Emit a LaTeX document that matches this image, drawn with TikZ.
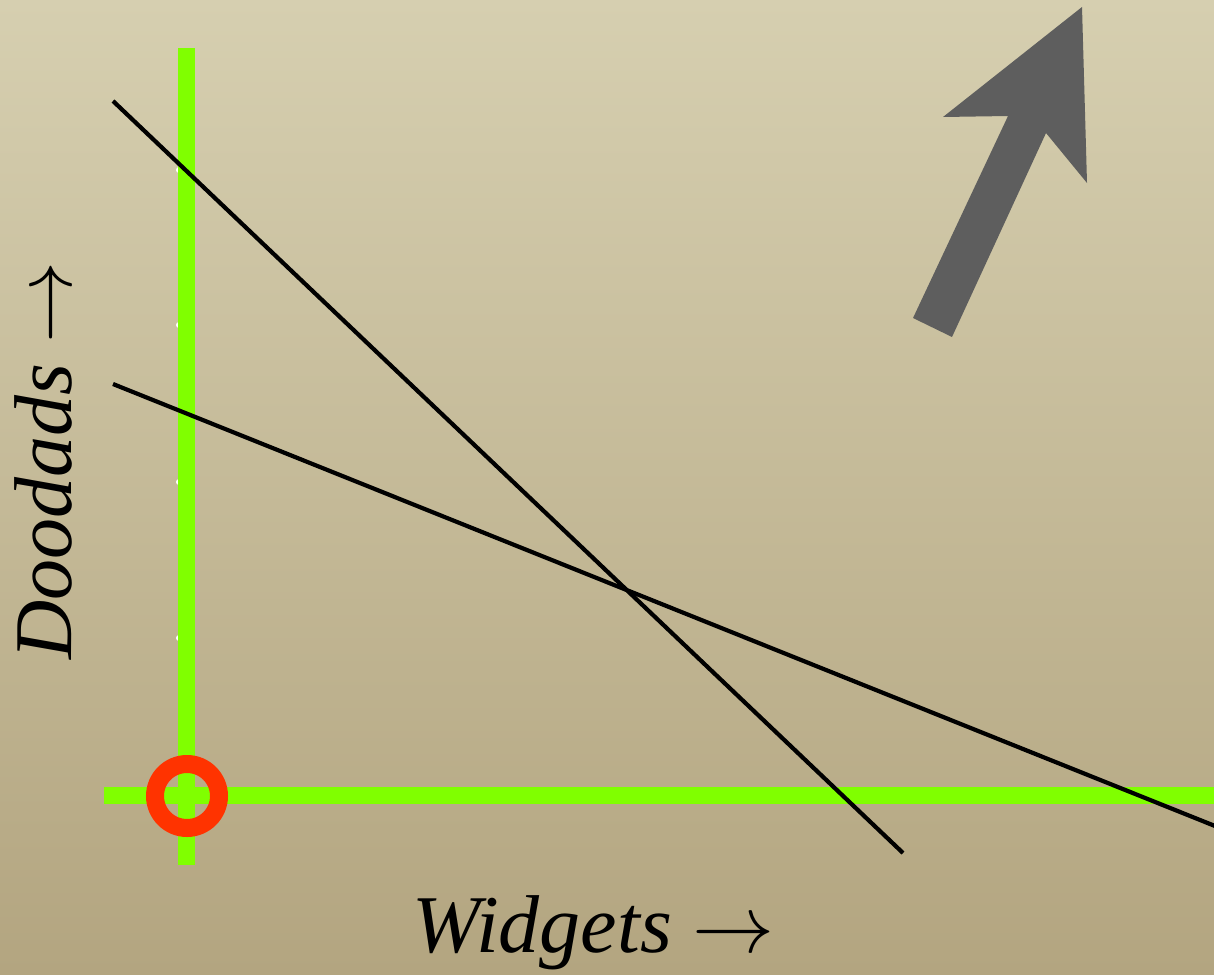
\documentclass[tikz,border=0pt]{standalone}
\usepackage{fix-cm}
\usepackage{fontspec}
\setmainfont{Liberation Serif}
\usetikzlibrary{calc}
\definecolor{bgtop}{HTML}{D6CFB0}
\definecolor{bgbot}{HTML}{B3A580}
\definecolor{axisgreen}{HTML}{80FF00}
\definecolor{origred}{HTML}{FF3300}
\definecolor{arrowgrey}{HTML}{5E5E5E}
\tikzset{
  axisline/.style={draw=axisgreen, line width=17pt},
  budgetline/.style={draw=black, line width=4.2pt},
  tickdot/.style={circle, fill=white, inner sep=0pt, minimum size=6pt},
  origring/.style={circle, draw=origred, line width=18pt, minimum size=64pt, inner sep=0pt},
  axislabel/.style={font=\fontsize{82}{90}\selectfont\itshape, inner sep=0pt, anchor=base west},
  bigarrow/.style={fill=arrowgrey, draw=none},
}

\begin{document}
\begin{tikzpicture}[x=1pt, y=-1pt]

  %% Canvas and background
  \useasboundingbox (0,0) rectangle (1214,974);
  \shade[top color=bgtop, bottom color=bgbot] (0,0) rectangle (1214,974);

  %% Tick marks peeking out from behind the y axis
  \foreach \ty in {170,325,482,638}
    \node[tickdot] at (179,\ty) {};

  %% Axes
  \coordinate (ytop) at (186,48);
  \coordinate (ybot) at (186,865);
  \coordinate (xleft) at (104,795);
  \coordinate (xright) at (1214,795);
  \draw[axisline] (ybot) -- (ytop);
  \draw[axisline] (xleft) -- (xright);

  %% Origin marker
  \node[origring] (origin) at (187,796) {};

  %% Budget lines
  \coordinate (aTop) at (113,101);
  \coordinate (aEnd) at (903,853);
  \coordinate (bTop) at (113,384);
  \coordinate (bEnd) at (1220,828);
  \draw[budgetline] (aTop) -- (aEnd);
  \draw[budgetline] (bTop) -- (bEnd);

  %% Direction arrow
  \fill[bigarrow] (913,318) -- (1008,116) -- (943,117) -- (1082,7)
    -- (1087,183) -- (1046,133) -- (952,337) -- cycle;

  %% Axis labels
  \node[axislabel] (xlab) at (412,952) {Widgets $\rightarrow$};
  \node[axislabel, rotate=90] (ylab) at (71,660) {Doodads $\rightarrow$};

\end{tikzpicture}
\end{document}
